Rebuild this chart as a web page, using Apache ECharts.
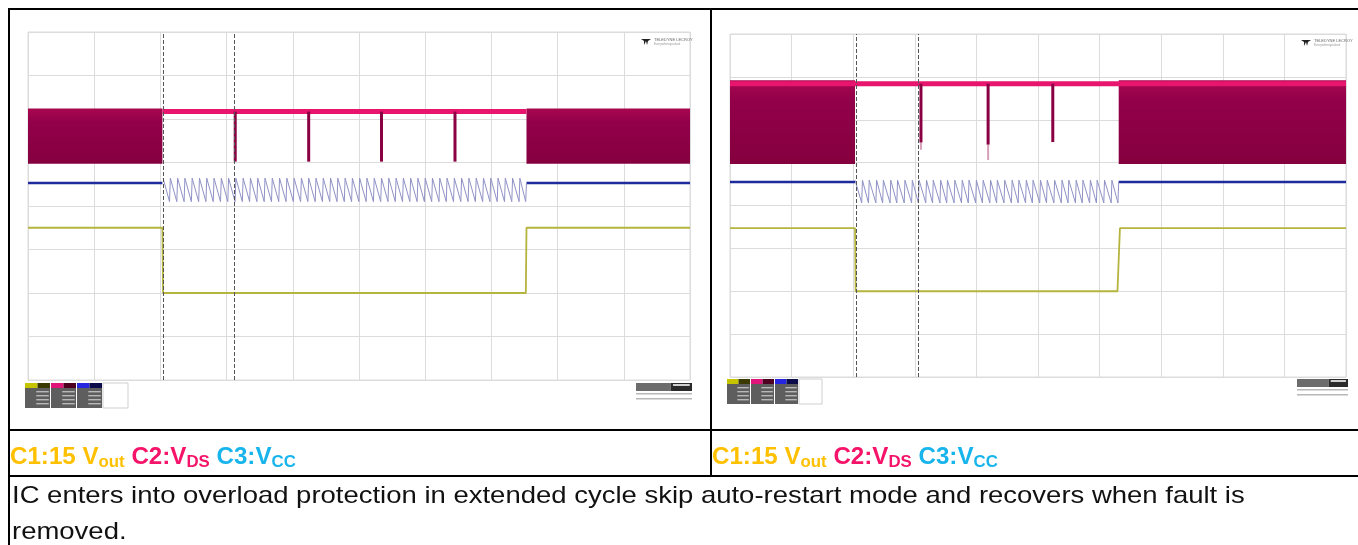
<!DOCTYPE html>
<html><head><meta charset="utf-8">
<script src="https://cdn.jsdelivr.net/npm/echarts@6/dist/echarts.min.js"></script>
<style>html,body{margin:0;padding:0;background:#fff}#c{width:1358px;height:545px}</style>
</head><body><div id="c"></div>
<script>
// Units: horizontal = scope time divisions (0..10), vertical = scope divisions (0..8)
const xDivs = [0, 10];
const yDivs = [0, 8];

// ---------- Left capture ----------
const L_vdsBand   = [[0, 2.03, 4.97, 6.24], [7.53, 10, 4.97, 6.24]];   // [tStart, tEnd, low, high]
const L_vdsTop    = [[2.03, 6.17], [7.53, 6.17]];
const L_vdsSpikes = [[3.13, 5.02, 6.17], [4.24, 5.02, 6.17], [5.34, 5.02, 6.17], [6.45, 5.02, 6.17]]; // [t, low, high]
const L_vdsTails  = [];
const L_vccFlat   = [[0, 2.03, 4.53], [7.53, 10, 4.53]];               // [tStart, tEnd, level]
const L_vccPeaks  = [2.04, 2.15, 2.26, 2.37, 2.48, 2.59, 2.70, 2.81, 2.92, 3.03, 3.14, 3.25, 3.36, 3.47, 3.58, 3.69, 3.80, 3.91, 4.02, 4.13,
                     4.24, 4.35, 4.46, 4.57, 4.68, 4.79, 4.90, 5.01, 5.12, 5.23, 5.34, 5.45, 5.56, 5.67, 5.78, 5.89, 6.00, 6.11, 6.22, 6.33,
                     6.44, 6.55, 6.66, 6.77, 6.88, 6.99, 7.10, 7.21, 7.32, 7.43];
const L_vccSaw    = {top: 4.64, bottom: 4.10, end: 7.53, after: 4.53};
const L_vout      = [[0, 3.50], [2.03, 3.50], [2.04, 2.00], [7.52, 2.00], [7.53, 3.50], [10, 3.50]];
const L_cursors   = [2.05, 3.11];

// ---------- Right capture ----------
const R_vdsBand   = [[0, 2.03, 4.97, 6.92], [6.31, 10, 4.97, 6.92]];
const R_vdsTop    = [[0, 6.84], [10, 6.84]];
const R_vdsSpikes = [[3.10, 5.47, 6.84], [4.19, 5.42, 6.84], [5.24, 5.48, 6.84]];
const R_vdsTails  = [[4.19, 5.06, 5.42], [3.10, 5.30, 5.47]];
const R_vccFlat   = [[0, 2.03, 4.55], [6.31, 10, 4.55]];
const R_vccPeaks  = [2.03, 2.15, 2.26, 2.38, 2.49, 2.61, 2.72, 2.84, 2.96, 3.07, 3.19, 3.30, 3.42, 3.53, 3.65, 3.77, 3.88, 4.00, 4.11, 4.23,
                     4.34, 4.46, 4.58, 4.69, 4.81, 4.92, 5.04, 5.15, 5.27, 5.39, 5.50, 5.62, 5.73, 5.85, 5.96, 6.08, 6.20];
const R_vccSaw    = {top: 4.59, bottom: 4.06, end: 6.31, after: 4.55};
const R_vout      = [[0, 3.47], [2.03, 3.47], [2.04, 2.00], [6.29, 2.00], [6.33, 3.47], [10, 3.47]];
const R_cursors   = [2.05, 3.05];

const COL = {
  band0: '#a8084f', band1: '#85003f', vdsTop: '#e8156f', spike: '#8a0042', tail: '#d8a0b8',
  vcc: '#1f2a9c', saw: '#9092c6', vout: '#b5b43e', grid: '#dcdcdc', cursor: '#555'
};

function sawPoints(peaks, saw) {
  const pts = [];
  for (let i = 0; i < peaks.length; i++) {
    const next = i + 1 < peaks.length ? peaks[i + 1] : saw.end;
    pts.push([peaks[i], saw.top]);
    pts.push([next - 0.012, saw.bottom]);
  }
  pts.push([saw.end, saw.bottom]);
  pts.push([saw.end, saw.after]);
  return pts;
}

const bandGrad = new echarts.graphic.LinearGradient(0, 0, 0, 1, [
  {offset: 0, color: COL.band0}, {offset: 0.25, color: '#92004a'}, {offset: 1, color: COL.band1}
]);

function bandSeries(idx, data) {
  return {
    type: 'custom', xAxisIndex: idx, yAxisIndex: idx, data: data, silent: true, z: 2,
    renderItem: function (p, api) {
      const a = api.coord([api.value(0), api.value(3)]);
      const b = api.coord([api.value(1), api.value(2)]);
      return {type: 'rect', shape: {x: a[0], y: a[1], width: b[0] - a[0], height: b[1] - a[1]}, style: {fill: bandGrad}};
    }
  };
}
function vSegSeries(idx, data, color, w, z) {
  return {
    type: 'custom', xAxisIndex: idx, yAxisIndex: idx, data: data, silent: true, z: z,
    renderItem: function (p, api) {
      const a = api.coord([api.value(0), api.value(1)]);
      const b = api.coord([api.value(0), api.value(2)]);
      return {type: 'line', shape: {x1: a[0], y1: a[1], x2: b[0], y2: b[1]}, style: {stroke: color, lineWidth: w}};
    }
  };
}
function hSegSeries(idx, data, color, w, z) {
  return {
    type: 'custom', xAxisIndex: idx, yAxisIndex: idx, data: data, silent: true, z: z,
    renderItem: function (p, api) {
      const a = api.coord([api.value(0), api.value(2)]);
      const b = api.coord([api.value(1), api.value(2)]);
      return {type: 'line', shape: {x1: a[0], y1: a[1], x2: b[0], y2: b[1]}, style: {stroke: color, lineWidth: w}};
    }
  };
}
function lineSeries(idx, data, color, w, z, extra) {
  return Object.assign({
    type: 'line', xAxisIndex: idx, yAxisIndex: idx, data: data, symbol: 'none', silent: true, z: z,
    lineStyle: {color: color, width: w}, animation: false
  }, extra || {});
}

function panelSeries(idx, P) {
  return [
    bandSeries(idx, P.band),
    lineSeries(idx, P.top, COL.vdsTop, 5, 3),
    vSegSeries(idx, P.tails, COL.tail, 2, 3),
    vSegSeries(idx, P.spikes, COL.spike, 3, 4),
    hSegSeries(idx, P.vccFlat, COL.vcc, 2.5, 3),
    lineSeries(idx, sawPoints(P.peaks, P.saw), COL.saw, 1, 3),
    lineSeries(idx, P.vout, COL.vout, 1.8, 3, {
      markLine: {
        silent: true, symbol: 'none', label: {show: false},
        lineStyle: {color: COL.cursor, type: [4, 2], width: 1},
        data: P.cursors.map(c => ({xAxis: c}))
      }
    })
  ];
}

function axisPair(idx) {
  return {
    x: {type: 'value', gridIndex: idx, min: xDivs[0], max: xDivs[1], interval: 1,
        axisLine: {show: false}, axisTick: {show: false}, axisLabel: {show: false},
        splitLine: {show: true, lineStyle: {color: COL.grid, width: 1}}},
    y: {type: 'value', gridIndex: idx, min: yDivs[0], max: yDivs[1], interval: 1,
        axisLine: {show: false}, axisTick: {show: false}, axisLabel: {show: false},
        splitLine: {show: true, lineStyle: {color: COL.grid, width: 1}}}
  };
}
const a0 = axisPair(0), a1 = axisPair(1);

// ---------- decorations ----------
const G = [];
function ln(x1, y1, x2, y2, w, c) { G.push({type: 'line', silent: true, z: 50, shape: {x1, y1, x2, y2}, style: {stroke: c || '#000', lineWidth: w || 2}}); }
function rc(x, y, w, h, fill, stroke) { G.push({type: 'rect', silent: true, z: 50, shape: {x, y, width: w, height: h}, style: {fill: fill, stroke: stroke || null, lineWidth: 1}}); }
function tx(x, y, text, style, sx) { G.push({type: 'text', silent: true, z: 51, x: x, y: y, scaleX: sx || 1, style: Object.assign({text: text}, style)}); }

// table lines
ln(9, 9, 1358, 9); ln(9, 8, 9, 545); ln(711, 9, 711, 476);
ln(9, 430, 1358, 430); ln(9, 476, 1358, 476);

function chanBoxes(x, y, w, h) {
  const heads = [['#c6c400', '#3a3a00'], ['#e0157a', '#4e0020'], ['#2626e0', '#0c0c4a']];
  for (let i = 0; i < 3; i++) {
    const bx = x + i * (w + 1);
    rc(bx, y, w / 2, 5, heads[i][0]); rc(bx + w / 2, y, w / 2, 5, heads[i][1]);
    rc(bx, y + 5, w, h - 5, '#5e5e5e');
    for (let k = 0; k < 4; k++) rc(bx + w * 0.45, y + 8 + k * 4, w * 0.5, 1.4, '#b8b8b8');
  }
  rc(x + 3 * (w + 1), y, w, h, '#fff', '#cfcfcf');
}
function infoBox(x, y, w) {
  rc(x, y, w * 0.62, 8, '#6c6c6c'); rc(x + w * 0.62, y, w * 0.38, 8, '#2a2a2a');
  rc(x + w * 0.66, y + 1, w * 0.3, 2, '#d0d0d0');
  rc(x, y + 10, w, 1.5, '#b8b8b8'); rc(x, y + 15, w, 1.5, '#b8b8b8');
}
function logo(x, y) {
  G.push({type: 'polygon', silent: true, z: 50, shape: {points: [[x, y], [x + 10, y], [x + 7, y + 2], [x + 6, y + 6], [x + 5, y + 2], [x + 3, y + 6], [x + 3, y + 2]]}, style: {fill: '#222'}});
  tx(x + 13, y - 1, 'TELEDYNE LECROY', {fontSize: 4, fill: '#666', fontFamily: 'Liberation Sans'});
  tx(x + 13, y + 4, 'Everywhereyoulook', {fontSize: 3, fill: '#999', fontFamily: 'Liberation Sans'});
}
chanBoxes(25, 383, 25, 25); chanBoxes(727, 379, 23, 25);
infoBox(636, 383, 56); infoBox(1297, 379, 51);
logo(641, 39); logo(1301, 40);

// captions
const F = 'Liberation Sans';
function capStyle(size, color, sub) {
  return {fontSize: size, fontWeight: 'bold', fill: color, fontFamily: F, verticalAlign: 'bottom', padding: sub ? [0, 0, -2, 0] : 0};
}
const capRich = {
  a: capStyle(23, '#FFC000'), as: capStyle(16, '#FFC000', true),
  b: capStyle(23, '#F5146A'), bs: capStyle(16, '#F5146A', true),
  c: capStyle(23, '#18B4EC'), cs: capStyle(16, '#18B4EC', true)
};
const capText = '{a|C1:15 V}{as|out}{b| C2:V}{bs|DS}{c| C3:V}{cs|CC}';
tx(10, 446, capText, {rich: capRich}, 1.05);
tx(712, 446, capText, {rich: capRich}, 1.05);

tx(12, 484, 'IC enters into overload protection in extended cycle skip auto-restart mode and recovers when fault is',
   {fontSize: 24, fill: '#111', fontFamily: F}, 1.145);
tx(12, 520, 'removed.', {fontSize: 24, fill: '#111', fontFamily: F}, 1.145);

const option = {
  animation: false,
  backgroundColor: '#fff',
  grid: [
    {left: 28, top: 32, width: 662, height: 348, show: true, borderColor: COL.grid, borderWidth: 1},
    {left: 730, top: 34, width: 616, height: 343, show: true, borderColor: COL.grid, borderWidth: 1}
  ],
  xAxis: [a0.x, a1.x],
  yAxis: [a0.y, a1.y],
  series: [].concat(
    panelSeries(0, {band: L_vdsBand, top: L_vdsTop, spikes: L_vdsSpikes, tails: L_vdsTails, vccFlat: L_vccFlat,
                    peaks: L_vccPeaks, saw: L_vccSaw, vout: L_vout, cursors: L_cursors}),
    panelSeries(1, {band: R_vdsBand, top: R_vdsTop, spikes: R_vdsSpikes, tails: R_vdsTails, vccFlat: R_vccFlat,
                    peaks: R_vccPeaks, saw: R_vccSaw, vout: R_vout, cursors: R_cursors})
  ),
  graphic: G
};
const chart = echarts.init(document.getElementById('c'), null, {renderer: 'canvas'});
chart.setOption(option);
</script></body></html>
